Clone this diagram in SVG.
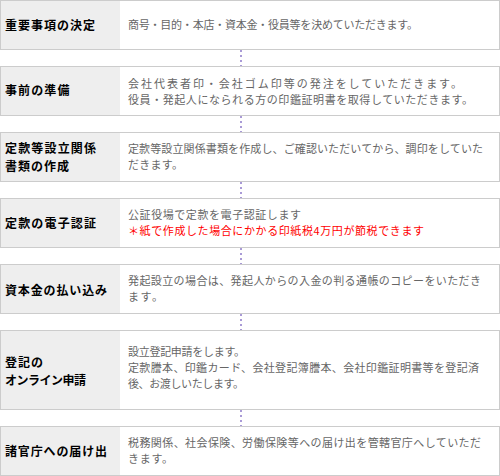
<svg xmlns="http://www.w3.org/2000/svg" width="500" height="476" viewBox="0 0 500 476">
<style>
.box{fill:#ffffff;stroke:#cccccc;stroke-width:1}
.head{fill:#eeeeee}
.lbl{font-family:"Noto Sans CJK JP","Noto Sans CJK SC",sans-serif;font-size:12px;font-weight:bold;fill:#000000}
.txt{font-family:"Noto Sans CJK JP","Noto Sans CJK SC",sans-serif;font-size:11px;fill:#666666}
.red{fill:#ff0000}
.conn{stroke:#a99ad6;stroke-width:2;stroke-dasharray:2 3;fill:none}
</style>
<rect width="500" height="476" fill="#ffffff"/>
<g id="connectors">
<line class="conn" x1="241" y1="50" x2="241" y2="66"/>
<line class="conn" x1="241" y1="116" x2="241" y2="132"/>
<line class="conn" x1="241" y1="182" x2="241" y2="198"/>
<line class="conn" x1="241" y1="248" x2="241" y2="264"/>
<line class="conn" x1="241" y1="314" x2="241" y2="330"/>
<line class="conn" x1="241" y1="410" x2="241" y2="426"/>
</g>
<g id="step1">
<rect class="box" x="0.5" y="0.5" width="499" height="49"/>
<rect class="head" x="1" y="1" width="119" height="48"/>
<text class="lbl" x="5" y="29.6" textLength="90" lengthAdjust="spacing">重要事項の決定</text>
<text class="txt" x="128" y="29.2" textLength="290" lengthAdjust="spacing">商号・目的・本店・資本金・役員等を決めていただきます。</text>
</g>
<g id="step2">
<rect class="box" x="0.5" y="66.5" width="499" height="49"/>
<rect class="head" x="1" y="67" width="119" height="48"/>
<text class="lbl" x="5" y="95.3" textLength="64.5" lengthAdjust="spacing">事前の準備</text>
<text class="txt"><tspan x="128" y="87.7" textLength="334" lengthAdjust="spacing">会社代表者印・会社ゴム印等の発注をしていただきます。</tspan><tspan x="128" y="103.7" textLength="345" lengthAdjust="spacing">役員・発起人になられる方の印鑑証明書を取得していただきます。</tspan></text>
</g>
<g id="step3">
<rect class="box" x="0.5" y="132.5" width="499" height="49"/>
<rect class="head" x="1" y="133" width="119" height="48"/>
<text class="lbl"><tspan x="5" y="153" textLength="91" lengthAdjust="spacing">定款等設立関係</tspan><tspan x="5" y="170.5" textLength="64" lengthAdjust="spacing">書類の作成</tspan></text>
<text class="txt"><tspan x="128" y="152.6" textLength="355" lengthAdjust="spacing">定款等設立関係書類を作成し、ご確認いただいてから、調印をしていた</tspan><tspan x="128" y="168.6" textLength="55" lengthAdjust="spacing">だきます。</tspan></text>
</g>
<g id="step4">
<rect class="box" x="0.5" y="198.5" width="499" height="49"/>
<rect class="head" x="1" y="199" width="119" height="48"/>
<text class="lbl" x="5" y="228" textLength="91" lengthAdjust="spacing">定款の電子認証</text>
<text class="txt"><tspan x="128" y="218.5" textLength="173" lengthAdjust="spacing">公証役場で定款を電子認証します</tspan><tspan class="red" x="128" y="234.5" textLength="296" lengthAdjust="spacing">＊紙で作成した場合にかかる印紙税4万円が節税できます</tspan></text>
</g>
<g id="step5">
<rect class="box" x="0.5" y="264.5" width="499" height="49"/>
<rect class="head" x="1" y="265" width="119" height="48"/>
<text class="lbl" x="5" y="295.3" textLength="102" lengthAdjust="spacing">資本金の払い込み</text>
<text class="txt"><tspan x="128" y="285.3" textLength="353" lengthAdjust="spacing">発起設立の場合は、発起人からの入金の判る通帳のコピーをいただき</tspan><tspan x="128" y="301.3" textLength="35" lengthAdjust="spacing">ます。</tspan></text>
</g>
<g id="step6">
<rect class="box" x="0.5" y="330.5" width="499" height="79"/>
<rect class="head" x="1" y="331" width="119" height="78"/>
<text class="lbl"><tspan x="5" y="367.1" textLength="38" lengthAdjust="spacing">登記の</tspan><tspan x="5" y="384.6" textLength="81" lengthAdjust="spacing">オンライン申請</tspan></text>
<text class="txt"><tspan x="128" y="356.2" textLength="117" lengthAdjust="spacing">設立登記申請をします。</tspan><tspan x="128" y="372.2" textLength="351" lengthAdjust="spacing">定款謄本、印鑑カード、会社登記簿謄本、会社印鑑証明書等を登記済</tspan><tspan x="128" y="388.2" textLength="116" lengthAdjust="spacing">後、お渡しいたします。</tspan></text>
</g>
<g id="step7">
<rect class="box" x="0.5" y="426.5" width="499" height="49"/>
<rect class="head" x="1" y="427" width="119" height="48"/>
<text class="lbl" x="5" y="456.3" textLength="102" lengthAdjust="spacing">諸官庁への届け出</text>
<text class="txt"><tspan x="128" y="447" textLength="353" lengthAdjust="spacing">税務関係、社会保険、労働保険等への届け出を管轄官庁へしていただ</tspan><tspan x="128" y="463" textLength="45" lengthAdjust="spacing">きます。</tspan></text>
</g>
</svg>
